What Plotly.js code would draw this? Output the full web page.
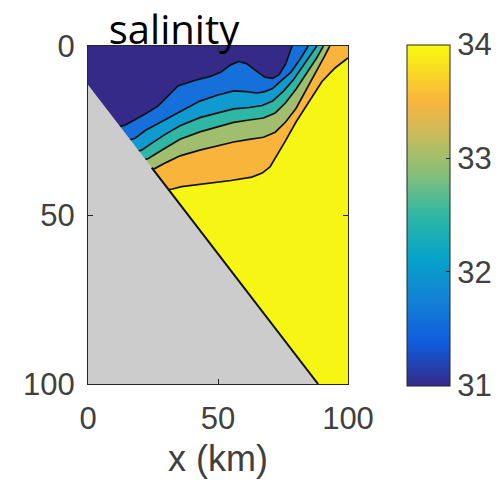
<!DOCTYPE html>
<html>
<head>
<meta charset="utf-8">
<script src="https://cdn.plot.ly/plotly-3.0.1.min.js"></script>
<style>html,body{margin:0;padding:0;background:#fff;}#plot{width:502px;height:482px;}</style>
</head>
<body>
<div id="plot"></div>
<script>
// ---- data ----
// contour levels (salinity) and band colours (parula, colour of lower level)
const levels = [31.5, 32, 32.5, 33, 33.5, 34];
const bandColors = ['#352a87', '#1570dc', '#0f9bd0', '#2eb7a4', '#a0be6d', '#f9b43c', '#f6f514'];
// contour lines: x (km) and depth, from the slope to the top/right edge
const x315 = [9, 14.2, 18, 21.8, 26.9, 30.8, 34.6, 41, 47, 51, 55, 58, 61, 64, 68, 71, 73.5, 76, 77.7, 78.5];
const d315 = [24.5, 23.4, 21.8, 20.2, 17.8, 14.8, 11.8, 10.2, 9, 7.8, 5.5, 4.6, 5.2, 7, 9.2, 9.6, 8.5, 5.4, 2, 0];
const x320 = [13, 18.1, 22, 28, 35, 43, 50, 56, 61, 65, 68, 71, 74, 78, 81.5, 84.7];
const d320 = [28.5, 27.3, 25, 22.5, 19.5, 16.3, 14.5, 13.3, 13.5, 13.9, 13.5, 12.6, 10.5, 7.8, 4, 0];
const x325 = [15, 20.6, 25, 30, 35.4, 43, 50, 56, 62, 67, 71, 75, 79, 83, 86, 88];
const d325 = [32, 30.8, 28.5, 26, 23.6, 21.2, 19.8, 18.6, 18.2, 17.6, 16.3, 13.5, 10, 5.5, 2.2, 0];
const x330 = [18, 23.2, 28, 35.4, 43, 50, 56, 62, 67.5, 72, 76, 80, 84, 88, 90.5];
const d330 = [34.5, 33.3, 31, 27.6, 25.4, 23.8, 22.6, 21.9, 21.3, 19.8, 16.8, 12.8, 8, 3.5, 0];
const x335 = [20, 25.8, 30, 35.4, 43, 50, 56, 62, 67.5, 72, 76, 80, 84, 88, 91, 93];
const d335 = [37.5, 36.2, 34.5, 32.5, 30.8, 29.5, 28.4, 27.6, 27, 25.5, 22.5, 18.5, 13, 7.5, 3, 0];
const x340 = [27, 32.5, 36, 45, 55, 63, 67, 70, 73, 76, 80, 85, 90, 95, 100];
const d340 = [43, 42.3, 41.6, 40.8, 39.8, 38.8, 37.6, 35.8, 32, 28, 22.5, 16.3, 10.5, 6.5, 3.5];
// bathymetry (gray land) : straight slope
const slopeX = [0, 88.5];
const slopeD = [11.5, 100];
// where the 34 contour follows the slope
const slopeLineX = [24.5, 88.5];
const slopeLineD = [36, 100];
// tick labels
const axisTicks = [0, 50, 100];
const cbTicks = [31, 32, 33, 34];
const cbScale = [[0, '#352a87'], [0.125, '#0f5cdd'], [0.25, '#1481d6'], [0.375, '#06a4ca'], [0.5, '#2eb7a4'], [0.625, '#87bf77'], [0.75, '#d1bb59'], [0.835, '#f9b43c'], [1, '#f9fb0e']];

const linesX = [x315, x320, x325, x330, x335, x340];
const linesD = [d315, d320, d325, d330, d335, d340];

const traces = [];
// colorbar carrier
traces.push({
  type: 'scatter', mode: 'markers', x: [50, 50], y: [90, 90], hoverinfo: 'skip', showlegend: false,
  marker: {
    size: 1, opacity: 0, color: [cbTicks[0], cbTicks[cbTicks.length - 1]],
    cmin: cbTicks[0], cmax: cbTicks[cbTicks.length - 1], colorscale: cbScale, showscale: true,
    colorbar: {
      x: (407 - 88) / 260, xanchor: 'left', xref: 'paper', xpad: 0, ypad: 0,
      y: 0.5, yanchor: 'middle', len: 341 / 338, lenmode: 'fraction',
      thickness: 43, thicknessmode: 'pixels',
      outlinecolor: '#262626', outlinewidth: 1,
      tickvals: cbTicks, ticks: 'inside', ticklen: 4, tickcolor: '#262626',
      tickfont: {family: 'Liberation Sans, Arial, sans-serif', size: 31, color: '#404040'}
    }
  }
});
// base band (highest level) over whole section
traces.push({
  type: 'scatter', mode: 'lines', x: [0, 100, 100, 0], y: [0, 0, 100, 100], fill: 'toself',
  fillcolor: bandColors[6], line: {width: 0}, hoverinfo: 'skip', showlegend: false
});
// bands above each contour, painted from deepest to shallowest
for (let k = linesX.length - 1; k >= 0; k--) {
  const xs = linesX[k].slice(), ds = linesD[k].slice();
  if (xs[xs.length - 1] >= 100) { xs.push(100); ds.push(0); }
  xs.push(0); ds.push(0);
  xs.push(0); ds.push(linesD[k][0]);
  traces.push({
    type: 'scatter', mode: 'lines', x: xs, y: ds, fill: 'toself',
    fillcolor: bandColors[k], line: {width: 0}, hoverinfo: 'skip', showlegend: false
  });
}
// contour lines
for (let k = 0; k < linesX.length; k++) {
  traces.push({
    type: 'scatter', mode: 'lines', x: linesX[k], y: linesD[k],
    line: {color: '#111', width: 1.7}, hoverinfo: 'skip', showlegend: false
  });
}
// land
traces.push({
  type: 'scatter', mode: 'lines', x: [slopeX[0], slopeX[1], 0], y: [slopeD[0], slopeD[1], 100], fill: 'toself',
  fillcolor: '#cccccc', line: {width: 0}, hoverinfo: 'skip', showlegend: false
});
traces.push({
  type: 'scatter', mode: 'lines', x: slopeLineX, y: slopeLineD,
  line: {color: '#111', width: 2}, hoverinfo: 'skip', showlegend: false
});

const tickFont = {family: 'Liberation Sans, Arial, sans-serif', size: 31, color: '#404040'};
const layout = {
  width: 502, height: 482,
  margin: {l: 88, r: 154, t: 46, b: 98, pad: 0, autoexpand: false},
  paper_bgcolor: '#fff', plot_bgcolor: '#fff',
  showlegend: false,
  title: {
    text: 'salinity', font: {family: 'Open Sans, sans-serif', size: 40, color: '#000'},
    x: 174 / 502, xref: 'container', xanchor: 'center', y: 1 - 30 / 482, yref: 'container', yanchor: 'middle'
  },
  xaxis: {
    range: [0, 100], tickvals: axisTicks, ticks: 'inside', ticklen: 5, tickcolor: '#262626',
    showline: true, mirror: 'ticks', linecolor: '#262626', linewidth: 1,
    showgrid: false, zeroline: false, tickfont: tickFont, fixedrange: true, automargin: false,
    ticklabelstandoff: 7,
    title: {text: 'x (km)', font: {family: 'Liberation Sans, Arial, sans-serif', size: 36, color: '#404040'}, standoff: 10}
  },
  yaxis: {
    range: [100, 0], tickvals: axisTicks, ticks: 'inside', ticklen: 5, tickcolor: '#262626',
    showline: true, mirror: 'ticks', linecolor: '#262626', linewidth: 1,
    showgrid: false, zeroline: false, tickfont: tickFont, fixedrange: true, automargin: false,
    ticklabelstandoff: 6
  }
};
Plotly.newPlot('plot', traces, layout, {staticPlot: true, displayModeBar: false});
</script>
</body>
</html>
